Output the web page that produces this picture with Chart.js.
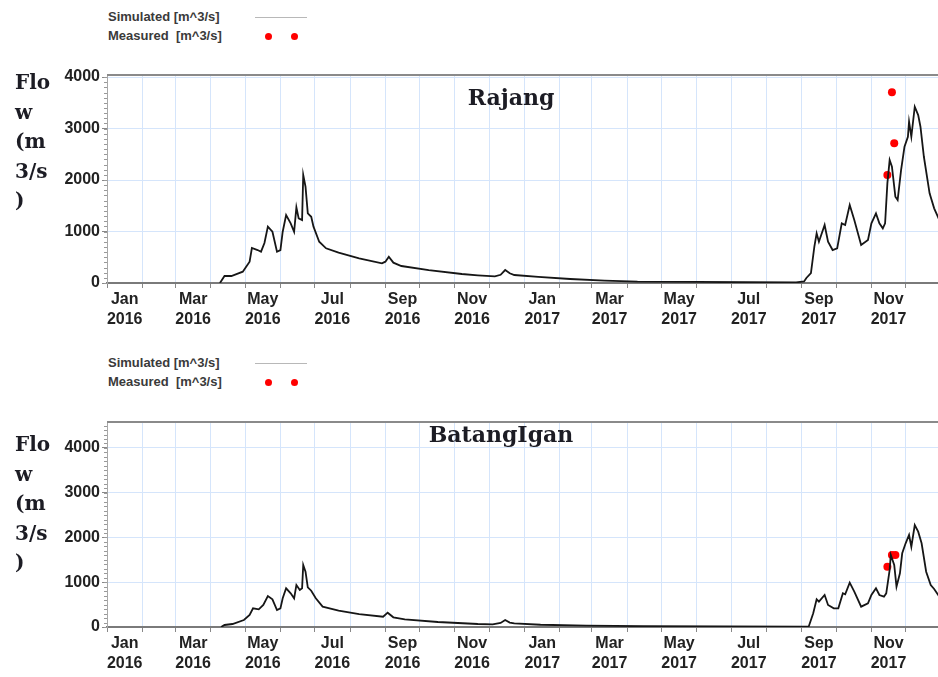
<!DOCTYPE html>
<html>
<head>
<meta charset="utf-8">
<script src="https://cdn.jsdelivr.net/npm/chart.js@4/dist/chart.umd.min.js"></script>
<style>
  html, body { margin: 0; padding: 0; background: #fff; overflow: hidden; width: 938px; height: 677px; }
  .box { position: absolute; left: 0; }
  .leg { position: absolute; font: bold 13px "Liberation Sans", Arial, sans-serif; color: #3a3a3a; line-height: 16px; white-space: nowrap; }
  .ln { position: absolute; height: 1px; background: #b8b8b8; }
  .dot { position: absolute; width: 7px; height: 7px; border-radius: 50%; background: #f00; }
  .ytitle { position: absolute; left: 15px; font: bold 20px "DejaVu Serif", serif; color: #1c1c24; line-height: 29.5px; }
  .ctitle { position: absolute; font: bold 22px "DejaVu Serif", serif; color: #1c1c24; transform: translateX(-50%); white-space: nowrap; }
</style>
</head>
<body>

<div class="leg" style="left:108px; top:9px;">Simulated [m^3/s]</div>
<div class="leg" style="left:108px; top:28px;">Measured&nbsp; [m^3/s]</div>
<div class="ln" style="left:255px; top:17px; width:52px;"></div>
<div class="dot" style="left:265px; top:33px;"></div>
<div class="dot" style="left:291px; top:33px;"></div>

<div class="box" style="top:60px;"><canvas id="rajang" width="945" height="280"></canvas></div>
<div class="ytitle" style="top:68px;">Flo<br>w<br>(m<br>3/s<br>)</div>
<div class="ctitle" style="left:511px; top:84px;">Rajang</div>

<div class="leg" style="left:108px; top:355px;">Simulated [m^3/s]</div>
<div class="leg" style="left:108px; top:374px;">Measured&nbsp; [m^3/s]</div>
<div class="ln" style="left:255px; top:363px; width:52px;"></div>
<div class="dot" style="left:265px; top:379px;"></div>
<div class="dot" style="left:291px; top:379px;"></div>

<div class="box" style="top:407px;"><canvas id="batang" width="945" height="277"></canvas></div>
<div class="ytitle" style="top:430px;">Flo<br>w<br>(m<br>3/s<br>)</div>
<div class="ctitle" style="left:501px; top:421px;">BatangIgan</div>

<script>
// days counted from 2016-01-01
var rajangDays = [99,103,109,119,125,127,132,135,138,141,145,149,152,154,157,161,164,166,168,171,
                  172,174,176,179,181,186,192,203,221,241,244,247,251,258,282,311,325,340,345,349,
                  353,357,378,406,436,465,517,560,604,611,613,617,620,622,624,629,632,636,640,644,
                  647,651,655,661,667,670,674,677,680,682,684,686,688,691,693,696,699,702,703,705,
                  708,711,713,716,721,725,729];
var rajangFlow = [0,136,136,220,414,680,640,608,776,1094,996,608,640,996,1320,1159,996,1469,1256,1223,
                  2097,1870,1353,1287,1094,802,674,589,479,382,414,511,395,330,252,175,150,130,160,252,
                  190,155,117,78,45,25,20,15,12,30,97,194,705,965,802,1126,802,640,674,1159,
                  1126,1515,1223,738,835,1159,1353,1159,1062,1159,1936,2388,2258,1676,1612,2194,2647,2841,3132,2841,
                  3423,3262,3035,2452,1742,1450,1250];
var rajangMeasDays = [684,688,690];
var rajangMeasFlow = [2097,3703,2713];

var batangDays = [100,103,110,120,125,128,133,137,141,145,149,152,154,157,161,164,166,169,171,172,
                  174,176,179,183,189,203,221,242,246,251,261,290,325,338,345,349,353,357,380,420,
                  470,540,610,615,619,622,624,629,632,637,641,645,647,651,655,661,667,670,674,677,
                  681,683,686,687,690,692,695,697,700,703,705,708,711,714,718,722,725,729];
var batangFlow = [0,45,67,156,268,417,395,492,693,618,380,417,641,864,753,641,938,827,864,1385,
                  1236,887,811,641,454,365,290,230,320,217,172,112,67,60,90,156,100,83,50,30,
                  18,12,8,7,306,618,566,715,492,417,417,753,730,990,789,454,529,715,864,715,
                  677,753,1274,1609,1385,901,1200,1647,1870,2056,1794,2279,2130,1870,1236,938,850,700];
var batangMeasDays = [684,688,691];
var batangMeasFlow = [1348,1609,1609];

var monthNames = ['Jan','Feb','Mar','Apr','May','Jun','Jul','Aug','Sep','Oct','Nov','Dec'];
var tickYears = [2016, 2017];
var yTicks = [0, 1000, 2000, 3000, 4000];

function dayOf(y, m) {
  return Math.round((Date.UTC(y, m, 1) - Date.UTC(2016, 0, 1)) / 86400000);
}

function monthTicks() {
  var t = [];
  tickYears.forEach(function(y) {
    for (var m = 0; m < 12; m++) {
      var s = dayOf(y, m), e = dayOf(y, m + 1);
      t.push({ value: s, edge: true, lab: '' });
      if (m % 2 == 0) t.push({ value: (s + e) / 2, edge: false, lab: [monthNames[m], String(y)] });
    }
  });
  t.push({ value: dayOf(2018, 0), edge: true, lab: '' });
  return t;
}

var frame = {
  id: 'frame',
  afterDraw: function(chart) {
    var c = chart.ctx, a = chart.chartArea, y = chart.scales.y;
    c.save();
    c.strokeStyle = '#999';
    c.lineWidth = 1;
    c.beginPath();
    for (var v = 0; v <= y.max; v += 100) {
      var p = Math.round(y.getPixelForValue(v)) + 0.5;
      c.moveTo(a.left - 3, p);
      c.lineTo(a.left, p);
    }
    c.stroke();
    c.strokeStyle = '#8a8a8a';
    c.lineWidth = 2;
    c.beginPath();
    c.moveTo(a.left, a.top);
    c.lineTo(a.right, a.top);
    c.stroke();
    c.restore();
  }
};

function pts(d, f) {
  return d.map(function(x, i) { return { x: x, y: f[i] }; });
}

function makeChart(id, days, flow, mDays, mFlow, yMax) {
  return new Chart(document.getElementById(id), {
    type: 'line',
    data: {
      datasets: [{
        label: 'Simulated [m^3/s]',
        data: pts(days, flow),
        borderColor: '#161616',
        borderWidth: 1.8,
        pointRadius: 0,
        tension: 0
      }, {
        label: 'Measured [m^3/s]',
        data: pts(mDays, mFlow),
        showLine: false,
        pointRadius: 4,
        pointBorderWidth: 0,
        backgroundColor: '#ff0000',
        borderColor: '#ff0000'
      }]
    },
    options: {
      responsive: false,
      animation: false,
      layout: { padding: { top: 15, left: 0, right: 0, bottom: 0 } },
      plugins: { legend: { display: false }, tooltip: { enabled: false } },
      scales: {
        x: {
          type: 'linear',
          min: 0,
          max: dayOf(2018, 0),
          afterBuildTicks: function(s) { s.ticks = monthTicks(); },
          afterFit: function(s) { s.height = 57; },
          grid: {
            color: function(ctx) { return ctx.tick && ctx.tick.edge ? '#d5e5fb' : 'rgba(0,0,0,0)'; },
            tickColor: function(ctx) { return ctx.tick && ctx.tick.edge ? '#888' : 'rgba(0,0,0,0)'; },
            tickLength: 5
          },
          border: { color: '#7a7a7a', width: 2 },
          ticks: {
            autoSkip: false,
            maxRotation: 0,
            padding: 2,
            color: '#222',
            font: { size: 16, weight: 'bold', lineHeight: 1.25 },
            callback: function(v, i, t) { return t[i].lab; }
          }
        },
        y: {
          min: 0,
          max: yMax,
          afterBuildTicks: function(s) { s.ticks = yTicks.map(function(v) { return { value: v }; }); },
          afterFit: function(s) { s.width = 107; },
          grid: { color: '#d5e5fb', tickColor: '#888', tickLength: 5 },
          border: { color: '#a8a8a8', width: 1 },
          ticks: {
            padding: 2,
            color: '#222',
            font: { size: 16, weight: 'bold' },
            callback: function(v) { return v; }
          }
        }
      }
    },
    plugins: [frame]
  });
}

Chart.defaults.font.family = '"Liberation Sans", Arial, sans-serif';
makeChart('rajang', rajangDays, rajangFlow, rajangMeasDays, rajangMeasFlow, 4040);
makeChart('batang', batangDays, batangFlow, batangMeasDays, batangMeasFlow, 4580);
</script>
</body>
</html>
